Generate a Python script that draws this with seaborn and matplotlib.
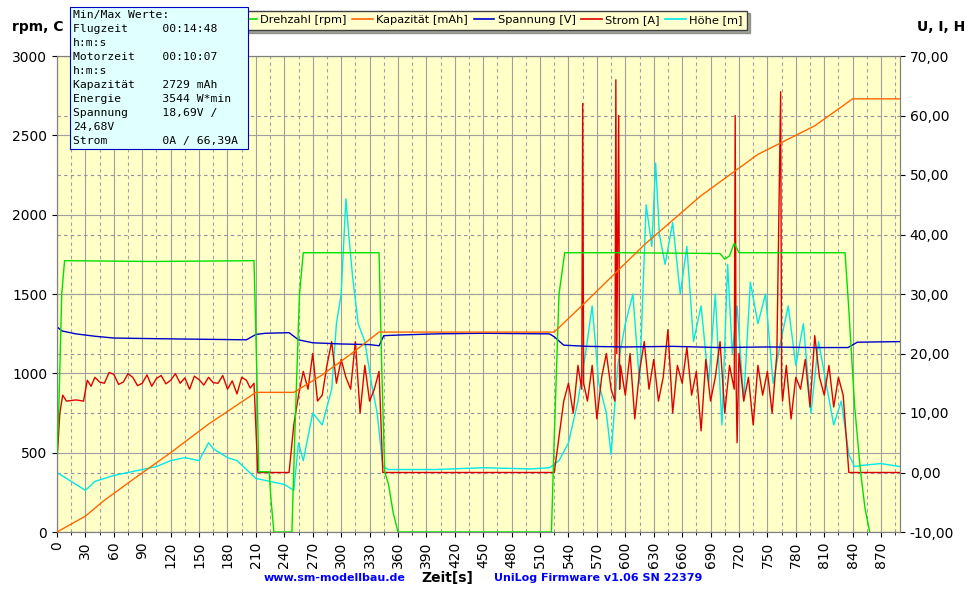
import matplotlib
matplotlib.use("Agg")
import matplotlib.pyplot as plt
import seaborn as sns
from matplotlib.lines import Line2D

# ---- data (time in s, value) ----
rpm_t = [0, 2, 5, 8, 100, 208, 211, 213, 224, 226, 229, 248, 251, 256, 260, 340, 343, 346, 350, 355, 360,
         522, 525, 530, 536, 600, 700, 705, 710, 715, 720, 800, 832, 836, 842, 848, 853, 858]
rpm_v = [500, 800, 1500, 1710, 1705, 1710, 1000, 380, 380, 200, 0, 0, 600, 1500, 1760, 1760, 1000, 380, 300, 120, 0,
         0, 600, 1500, 1760, 1760, 1755, 1720, 1740, 1820, 1760, 1760, 1760, 1400, 800, 400, 150, 0]

cap_t = [0, 15, 30, 50, 80, 120, 160, 210, 250, 280, 310, 340, 525, 560, 620, 680, 740, 800, 840, 890]
cap_v = [0, 50, 100, 200, 330, 500, 680, 880, 880, 990, 1120, 1260, 1260, 1460, 1810, 2120, 2380, 2560, 2730, 2730]

volt_t = [0, 5, 20, 40, 60, 100, 150, 200, 210, 220, 245, 255, 270, 300, 330, 340, 345, 360, 400, 450, 520,
          525, 535, 560, 600, 650, 700, 750, 800, 835, 845, 890]
volt_v = [24.5, 23.8, 23.3, 22.9, 22.6, 22.5, 22.4, 22.3, 23.2, 23.4, 23.5, 22.3, 21.8, 21.6, 21.5, 21.3, 23.0,
          23.1, 23.3, 23.4, 23.3, 22.8, 21.4, 21.2, 21.1, 21.2, 21.0, 21.1, 21.0, 21.0, 21.9, 22.0]

strom = [(0, 2), (3, 10), (6, 13), (10, 12), (20, 12.2), (28, 12), (32, 15.5), (36, 14.5), (40, 16), (45, 15.2),
         (50, 15), (55, 16.8), (60, 16.5), (65, 14.8), (70, 15.2), (75, 16.6), (80, 16), (85, 14.6), (90, 15),
         (95, 16.4), (100, 14.5), (105, 15.8), (110, 16.3), (115, 14.9), (120, 15.5), (125, 16.6), (130, 15),
         (135, 15.9), (140, 14), (145, 16.2), (150, 15.6), (155, 14.7), (160, 16), (165, 15.1), (170, 15),
         (175, 16.3), (180, 14), (185, 15.4), (190, 13.2), (195, 16), (200, 15.5), (204, 14.2), (208, 15),
         (212, 0), (245, 0), (250, 8),
         (255, 13), (260, 17), (265, 14), (270, 20), (275, 12), (280, 13), (285, 18), (290, 22), (295, 15),
         (300, 19), (305, 16), (310, 14), (315, 22), (320, 10), (325, 18), (330, 12), (335, 14), (340, 17),
         (344, 0), (525, 0), (530, 6), (535, 12), (540, 15), (545, 10), (550, 18), (554, 14), (555, 62),
         (556, 15), (560, 12), (565, 18), (570, 9), (575, 16), (580, 20), (585, 14), (589, 12), (590, 66),
         (591, 20), (593, 60), (594, 14), (595, 18), (600, 13), (605, 20), (610, 9), (615, 17), (620, 22),
         (625, 14), (630, 19), (635, 12), (640, 16), (645, 24), (650, 10), (655, 18), (660, 15), (665, 21),
         (670, 13), (675, 17), (680, 7), (685, 19), (690, 12), (695, 16), (700, 22), (705, 10), (710, 18),
         (715, 14), (716, 60), (717, 15), (718, 5), (720, 20), (725, 12), (730, 16), (735, 8), (740, 18),
         (745, 13), (750, 17), (755, 10), (760, 20), (764, 64), (765, 15), (766, 12), (770, 18), (775, 9),
         (780, 16), (785, 14), (790, 19), (795, 11), (800, 23), (805, 16), (810, 13), (815, 18), (820, 11),
         (825, 16), (830, 13), (836, 0), (890, 0)]

hoehe = [(0, 0), (10, -1), (20, -2), (30, -3), (40, -1.5), (50, -1), (60, -0.5), (75, 0), (90, 0.5), (105, 1),
         (120, 2), (135, 2.5), (150, 2), (160, 5), (165, 4), (170, 3.5), (180, 2.5), (190, 2), (200, 0.5),
         (210, -1), (225, -1.5), (240, -2), (250, -3), (255, 5), (260, 2), (270, 10), (280, 8), (290, 14),
         (295, 25), (300, 30), (305, 46), (308, 40), (312, 33), (318, 25), (325, 22), (332, 15), (338, 10),
         (344, 1), (350, 0.5), (400, 0.5), (450, 0.8), (500, 0.6), (520, 0.8), (530, 2), (540, 5), (550, 12),
         (558, 20), (565, 28), (572, 15), (580, 10), (585, 3), (592, 18), (600, 25), (608, 30), (615, 15),
         (622, 45), (628, 38), (632, 52), (636, 40), (642, 35), (650, 42), (658, 30), (665, 38), (672, 22),
         (680, 28), (688, 15), (695, 30), (702, 8), (708, 35), (713, 20), (718, 28), (725, 12), (732, 32),
         (740, 25), (748, 30), (756, 15), (764, 22), (772, 28), (780, 18), (788, 25), (796, 10), (804, 22),
         (812, 15), (820, 8), (828, 12), (836, 3), (842, 1), (850, 1.2), (870, 1.5), (890, 1.0)]

amp_t = [p[0] for p in strom]; amp_v = [p[1] for p in strom]
alt_t = [p[0] for p in hoehe]; alt_v = [p[1] for p in hoehe]

# ---- figure ----
fig = plt.figure(figsize=(9.7, 6.04), dpi=100)
fig.patch.set_facecolor("white")
ax2 = fig.add_axes([57/970, 72/604, 843/970, 476/604])
ax2.set_facecolor("#FFFFC8")
ax = ax2.twinx()
ax.yaxis.tick_left()
ax2.yaxis.tick_right()

ax.set_xlim(0, 890)
ax.set_ylim(0, 3000)
ax2.set_ylim(-10, 70)

for x in range(0, 891, 15):
    ax2.axvline(x, color="#A0A0A0", lw=0.8, ls="-" if x % 30 == 0 else (0, (3, 3)), zorder=0)
for y in range(-10, 71, 10):
    ax2.axhline(y, color="#9090A0", lw=0.8, ls=(0, (3, 3)), zorder=0)
for y in range(0, 3001, 500):
    ax2.axhline(y / 37.5 - 10, color="#A0A0A0", lw=0.8, zorder=0)

sns.lineplot(x=alt_t, y=alt_v, ax=ax2, color="#00E8E8", lw=1.0, zorder=2)
sns.lineplot(x=amp_t, y=amp_v, ax=ax2, color="#E00000", lw=1.0, zorder=3)
sns.lineplot(x=volt_t, y=volt_v, ax=ax2, color="#0000C8", lw=1.0, zorder=4)
sns.lineplot(x=rpm_t, y=rpm_v, ax=ax, color="#00E000", lw=1.0, zorder=3)
sns.lineplot(x=cap_t, y=cap_v, ax=ax, color="#FF6600", lw=1.0, zorder=3)

ax2.set_xticks(range(0, 871, 30))
ax2.set_xticks(range(0, 891, 15), minor=True)
ax2.set_xticklabels([str(v) for v in range(0, 871, 30)], rotation=90, fontsize=10)
ax.set_yticks(range(0, 3001, 500))
ax.tick_params(axis="y", labelsize=10, left=True, labelleft=True, right=False, labelright=False)
ax2.set_yticks(range(-10, 71, 10))
ax2.set_yticklabels([f"{v},00" for v in range(-10, 71, 10)], fontsize=10)
ax2.tick_params(axis="y", left=False, labelleft=False, right=True, labelright=True)
for a in (ax, ax2):
    a.set_xlabel(""); a.set_ylabel("")
    for s in a.spines.values():
        s.set_color("#808080")

info = ("Min/Max Werte:\nFlugzeit     00:14:48\nh:m:s\nMotorzeit    00:10:07\nh:m:s\n"
        "Kapazität    2729 mAh\nEnergie      3544 W*min\nSpannung     18,69V /\n24,68V\nStrom        0A / 66,39A ")
fig.text(73/970, 1 - 10/604, info, family="DejaVu Sans Mono", fontsize=8.2, va="top", ha="left",
         linespacing=1.5,
         bbox=dict(boxstyle="square,pad=0.3", fc="#E0FFFF", ec="#0000C0", lw=0.8), zorder=10)

handles = [Line2D([], [], color=c, lw=1.2) for c in ["#00E000", "#FF6600", "#0000C8", "#E00000", "#00E8E8"]]
labels = ["Drehzahl [rpm]", "Kapazität [mAh]", "Spannung [V]", "Strom [A]", "Höhe [m]"]
leg = fig.legend(handles, labels, loc="upper left", bbox_to_anchor=(226/970, 1 - 5/604), ncol=5,
                 frameon=True, fontsize=8.2, handlelength=1.8, columnspacing=0.5, handletextpad=0.3,
                 fancybox=False, shadow=True, borderpad=0.4)
leg.get_frame().set_facecolor("#FFFFD0")
leg.get_frame().set_edgecolor("#404040")
leg.set_zorder(5)

fig.text(12/970, 1 - 27/604, "rpm, C", fontsize=10, fontweight="bold", va="center")
fig.text(965/970, 1 - 27/604, "U, I, H", fontsize=10, fontweight="bold", va="center", ha="right")
fig.text(335/970, 1 - 578/604, "www.sm-modellbau.de", fontsize=8, fontweight="bold", color="#0000FF", ha="center", va="center")
fig.text(447/970, 1 - 578/604, "Zeit[s]", fontsize=10, fontweight="bold", color="black", ha="center", va="center")
fig.text(598/970, 1 - 578/604, "UniLog Firmware v1.06 SN 22379", fontsize=8, fontweight="bold", color="#0000FF", ha="center", va="center")

fig.savefig("out.png", dpi=100)
